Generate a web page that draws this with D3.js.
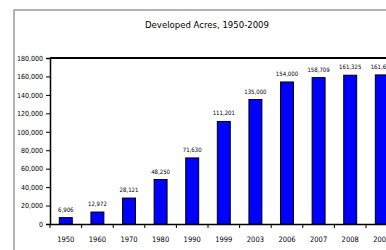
<!DOCTYPE html>
<html>
<head>
<meta charset="utf-8">
<script src="https://cdn.jsdelivr.net/npm/d3@7"></script>
<style>
  body { margin: 0; background: #fff; }
  svg text { font-family: "DejaVu Sans Condensed", "Liberation Sans Narrow", sans-serif; fill: #000; }
</style>
</head>
<body>
<div id="Chart"></div>
<script>
var years = ["1950","1960","1970","1980","1990","1999","2003","2006","2007","2008","2009"];
var acres = [6906, 12972, 28121, 48250, 71630, 111201, 135000, 154000, 158709, 161325, 161650];
var yTicks = [0, 20000, 40000, 60000, 80000, 100000, 120000, 140000, 160000, 180000];

var width = 386, height = 250;
var plot = { left: 50, top: 58, bottom: 224, step: 31.6 };

var svg = d3.select("#Chart")
  .append("svg")
  .attr("width", width)
  .attr("height", height);

// outer chart frame (only left and top edges show)
svg.append("rect")
  .attr("x", 14).attr("y", 10)
  .attr("width", 420).attr("height", 300)
  .attr("fill", "none")
  .attr("stroke", "#9a9a9a")
  .attr("stroke-width", 1.5);

svg.append("text")
  .attr("x", 207).attr("y", 28)
  .attr("text-anchor", "middle")
  .style("font-size", "9.5px")
  .text("Developed Acres, 1950-2009");

var x = d3.scaleBand()
  .domain(years)
  .range([plot.left, plot.left + plot.step * years.length])
  .paddingInner(0.59)
  .paddingOuter(0.295);

var y = d3.scaleLinear()
  .domain([0, 180000])
  .range([plot.bottom, plot.top]);

// top border line of plot
svg.append("line")
  .attr("x1", plot.left).attr("x2", width)
  .attr("y1", y(180000)).attr("y2", y(180000))
  .attr("stroke", "#000").attr("stroke-width", 2);

// bars
svg.selectAll(".bar")
  .data(years)
  .enter()
  .append("rect")
  .attr("class", "bar")
  .attr("x", function(d) { return x(d); })
  .attr("y", function(d, i) { return y(acres[i]); })
  .attr("width", x.bandwidth())
  .attr("height", function(d, i) { return y(0) - y(acres[i]); })
  .attr("fill", "#0000ff")
  .attr("stroke", "#000")
  .attr("stroke-width", 1);

// value labels
svg.selectAll(".val")
  .data(years)
  .enter()
  .append("text")
  .attr("class", "val")
  .attr("x", function(d) { return x(d) + x.bandwidth() / 2; })
  .attr("y", function(d, i) { return y(acres[i]) - 6; })
  .attr("text-anchor", "middle")
  .style("font-size", "6px")
  .text(function(d, i) { return d3.format(",")(acres[i]); });

// y axis
var yAxis = svg.append("g")
  .attr("transform", "translate(" + plot.left + ",0)")
  .call(d3.axisLeft(y).tickValues(yTicks).tickFormat(d3.format(",")).tickSize(4).tickPadding(3));
yAxis.select(".domain").attr("stroke-width", 1.5);
yAxis.selectAll("text").style("font-size", "7px");

// x axis, ticks between categories
var xAxis = svg.append("g")
  .attr("transform", "translate(0," + plot.bottom + ")")
  .call(d3.axisBottom(x).tickSize(0).tickPadding(13));
xAxis.select(".domain").attr("stroke-width", 1.5);
xAxis.selectAll("text").style("font-size", "7.5px");

svg.selectAll(".xtick")
  .data(years)
  .enter()
  .append("line")
  .attr("class", "xtick")
  .attr("x1", function(d) { return x(d) - x.step() * x.paddingOuter(); })
  .attr("x2", function(d) { return x(d) - x.step() * x.paddingOuter(); })
  .attr("y1", plot.bottom)
  .attr("y2", plot.bottom + 4)
  .attr("stroke", "#000");
</script>
</body>
</html>
